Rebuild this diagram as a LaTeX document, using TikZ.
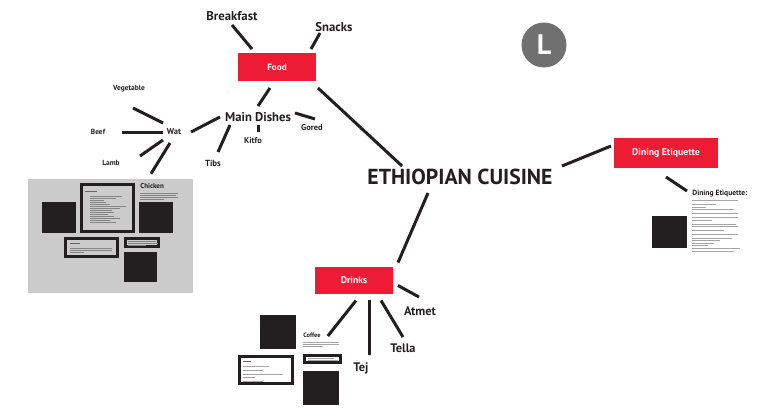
\documentclass[tikz,border=0pt]{standalone}
\usepackage{fontspec}
\setmainfont{PT Sans}
\usetikzlibrary{calc}
\definecolor{ecred}{RGB}{237,27,52}
\definecolor{ecink}{RGB}{35,31,32}
\definecolor{ecgray}{RGB}{112,112,112}
\definecolor{ecpanel}{RGB}{203,203,203}
\definecolor{ectext}{RGB}{165,165,165}

\tikzset{
  link/.style={ecink,line width=1.7pt},
  redbox/.style={fill=ecred,text=white,inner sep=0,font=\fontsize{5.2}{6}\selectfont\bfseries},
  biglabel/.style={text=ecink,inner sep=0,font=\fontsize{7.2}{8}\selectfont\bfseries},
  smalllabel/.style={text=ecink,inner sep=0,font=\fontsize{4.8}{5}\selectfont\bfseries},
  head/.style={text=ecink,inner sep=0,anchor=west,font=\fontsize{3.6}{4}\selectfont\bfseries},
  txt/.style={ectext,line width=0.35pt},
  card/.style={draw=ecink,line width=1.7pt},
  blk/.style={fill=ecink}
}

\begin{document}
\begin{tikzpicture}[x=0.567pt,y=-0.567pt]
  \useasboundingbox (0,0) rectangle (758,407);

  % hub and branches
  \node[text=ecink,inner sep=0,font=\fontsize{12.3}{13}\selectfont\bfseries] (cuisine) at (460,177) {ETHIOPIAN CUISINE};
  \node[redbox,minimum width=44.2pt,minimum height=15.9pt] (food) at (277,67) {Food};
  \node[redbox,minimum width=59pt,minimum height=17pt,font=\fontsize{5.5}{6}\selectfont\bfseries] (dining) at (666,153) {Dining Etiquette};
  \node[redbox,minimum width=44.2pt,minimum height=15.3pt,font=\fontsize{5.5}{6}\selectfont\bfseries] (drinks) at (354,280.5) {Drinks};
  \node[circle,fill=ecgray,text=white,inner sep=0,minimum size=25.5pt,font=\fontsize{16}{16}\selectfont\bfseries] (lmark) at (544,45) {L};

  \node[biglabel] (breakfast) at (232,16) {Breakfast};
  \node[biglabel] (snacks) at (334,27) {Snacks};
  \node[biglabel] (maindish) at (258,117) {Main Dishes};
  \node[smalllabel] (gored) at (312,128) {Gored};
  \node[smalllabel] (kitfo) at (253,141) {Kitfo};
  \node[smalllabel,font=\fontsize{5}{5}\selectfont\bfseries] (tibs) at (213,163) {Tibs};
  \node[smalllabel] (wat) at (174,132) {Wat};
  \node[smalllabel,font=\fontsize{4.2}{5}\selectfont\bfseries] (veg) at (129,89) {Vegetable};
  \node[smalllabel,font=\fontsize{4.2}{5}\selectfont\bfseries] (beef) at (98,132) {Beef};
  \node[smalllabel,font=\fontsize{4.2}{5}\selectfont\bfseries] (lamb) at (111,163) {Lamb};
  \node[biglabel,font=\fontsize{7}{8}\selectfont\bfseries] (atmet) at (420,311) {Atmet};
  \node[biglabel,font=\fontsize{7}{8}\selectfont\bfseries] (tella) at (403,348) {Tella};
  \node[biglabel,font=\fontsize{7}{8}\selectfont\bfseries] (tej) at (361,368) {Tej};

  % recipe panel
  \node[fill=ecpanel,draw=ectext!60,line width=0.4pt,minimum width=93pt,minimum height=64pt,inner sep=0] (recipe) at (110,235.5) {};
  \fill[blk] (42,202) rectangle (76,233);
  \fill[blk] (139,202) rectangle (173,233);
  \fill[blk] (124,252) rectangle (157,282);
  \draw[card] (81.5,184.5) rectangle (133.5,231.5);
  \draw[card] (65.5,238.5) rectangle (117.5,256.5);
  \draw[card] (125.5,238.5) rectangle (158.5,246.5);
  \draw[ecink!70,line width=0.5pt] (85,191) -- ++(12,0);
  \foreach \y/\l in {196/32,198/26,200/14,202/16,204/20,206/36,208/30,210/22,212/24,214/18,216/24,218/30,220/20,222/26}
    \draw[txt,ectext!80!black] (90,\y) -- ++(\l,0);
  \node[head,font=\fontsize{4}{4}\selectfont\bfseries] (chicken) at (140,186) {Chicken};
  \foreach \y/\l in {193/38,195/36,197/38,199/24}
    \draw[txt,ectext!80!black] (140,\y) -- ++(\l,0);
  \draw[ecink!70,line width=0.5pt] (70,243) -- ++(10,0);
  \foreach \y/\l in {248/42,250/42,252/14}
    \draw[txt,ectext!80!black] (70,\y) -- ++(\l,0);
  \foreach \y/\l in {241/28,243/30,245/18}
    \draw[txt,ectext!80!black] (128,\y) -- ++(\l,0);

  % etiquette card
  \node[head,font=\fontsize{4.3}{4}\selectfont\bfseries] (etq) at (692,194) {Dining Etiquette:};
  \foreach \y/\l in {200/46,204/24,207/14,209/42,213/46,217/46,220/20,224/44,226/46,230/32,234/46,238/40,240/28,243/22,245/16,248/48,251/42}
    \draw[txt] (692,\y) -- ++(\l,0);
  \fill[blk] (652,216) rectangle (687,248);

  % coffee card
  \node[head] (coffee) at (303,335) {Coffee};
  \foreach \y/\l in {342/36,344/36,346/20}
    \draw[txt] (303,\y) -- ++(\l,0);
  \fill[blk] (260,315) rectangle (296,349);
  \fill[white] (238,355) rectangle (294,385);
  \draw[card] (239.5,356.5) rectangle (292.5,383.5);
  \draw[ecink!70,line width=0.5pt] (243,361) -- ++(8,0);
  \foreach \y/\l in {366/26,370/20,374/40,377/12,381/20}
    \draw[txt] (243,\y) -- ++(\l,0);
  \draw[card] (304.5,355.5) rectangle (340.5,362.5);
  \foreach \y/\l in {358/26,360/30}
    \draw[txt] (308,\y) -- ++(\l,0);
  \fill[blk] (303,371) rectangle (339,405);

  % connectors
  \draw[link] ($(breakfast)+(0,9)$) -- ($(food)+(-25,-18)$);
  \draw[link] ($(snacks)+(-14,6)$) -- ($(food)+(34,-18)$);
  \draw[link] ($(food)+(-7,21)$) -- ($(maindish)+(0,-11)$);
  \draw[link] ($(food)+(41,21)$) -- ($(cuisine)+(-58,-11)$);
  \draw[link] ($(maindish)+(37,-4)$) -- ($(gored)+(3,-9)$);
  \draw[link] ($(maindish)+(0,8)$) -- ($(kitfo)+(5,-9)$);
  \draw[link] ($(maindish)+(-28,8)$) -- ($(tibs)+(5,-11)$);
  \draw[link] ($(maindish)+(-38,0)$) -- ($(wat)+(17,0)$);
  \draw[link] ($(wat)+(-11,-9)$) -- ($(veg)+(4,19)$);
  \draw[link] ($(wat)+(-11,0)$) -- ($(beef)+(24,0)$);
  \draw[link] ($(wat)+(-11,8)$) -- ($(lamb)+(29,-7)$);
  \draw[link] ($(wat)+(-4,11)$) -- ($(recipe.north)+(41,-5)$);
  \draw[link] ($(cuisine)+(102,-11)$) -- ($(dining)+(-55,-7)$);
  \draw[link] ($(dining)+(0,24)$) -- ($(etq.west)+(-5,-3)$);
  \draw[link] ($(cuisine)+(-32,16)$) -- ($(drinks)+(44,-18)$);
  \draw[link] ($(drinks)+(44,5)$) -- ($(atmet)+(-1,-14)$);
  \draw[link] ($(drinks)+(27,20)$) -- ($(tella)+(0,-11)$);
  \draw[link] ($(drinks)+(15,19)$) -- ($(tej)+(8,-13)$);
  \draw[link] ($(drinks)+(2,20)$) -- ($(coffee.east)+(7,1)$);
\end{tikzpicture}
\end{document}
